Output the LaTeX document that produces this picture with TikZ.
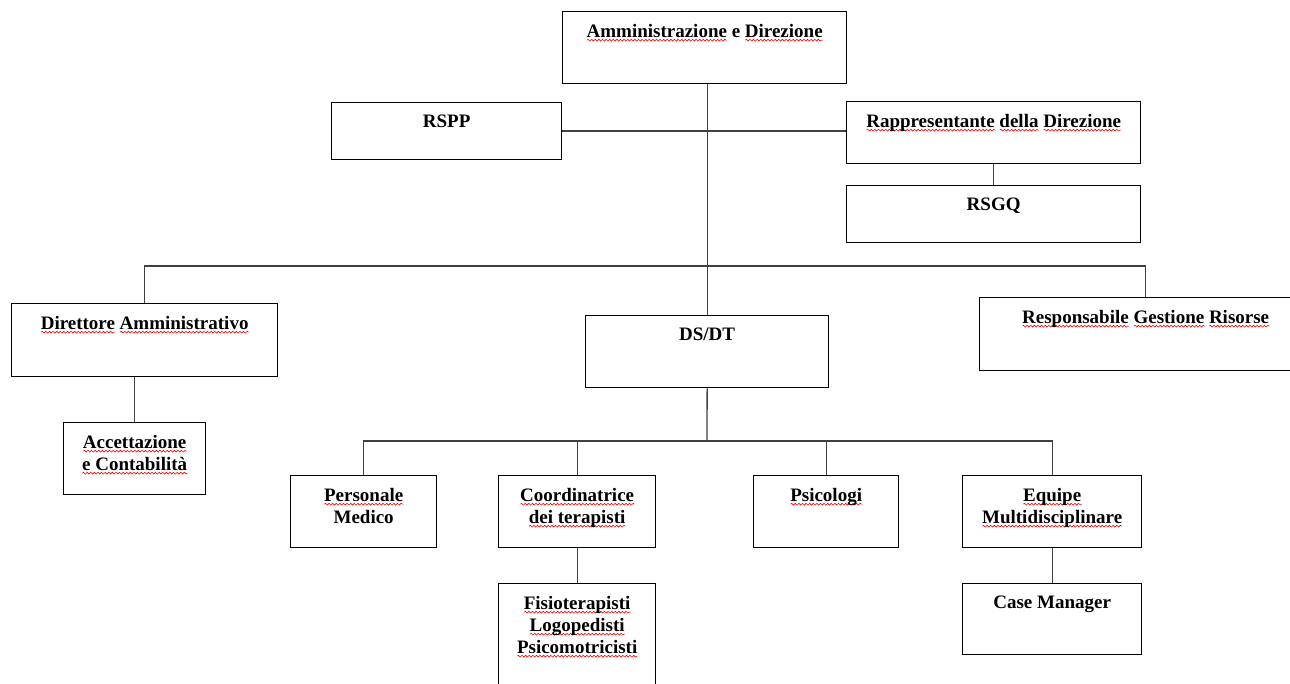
\documentclass[tikz,border=0pt]{standalone}
\usepackage{fontspec}
\setmainfont{Liberation Serif}
\usepackage{xcolor}
\usetikzlibrary{positioning, decorations.pathmorphing}

% red wavy line under the flagged words
\newsavebox{\sqbox}
\newcommand{\sqw}[1]{\sbox{\sqbox}{#1}\leavevmode
  \rlap{\smash{\raisebox{-4pt}{\tikz\draw[red, line width=0.6pt, decorate,
    decoration={snake, amplitude=0.9pt, segment length=3.6pt}]
    (0pt,0pt) -- (\wd\sqbox,0pt);}}}%
  \usebox{\sqbox}}

\tikzset{
  box/.style={draw=black, line width=1.3pt, inner sep=0pt, anchor=north west},
  lbl/.style={anchor=north, align=center, inner sep=0pt, yshift=-13pt,
    font=\fontsize{19}{22}\selectfont\bfseries},
  link/.style={draw=black!75, line width=1.3pt},
}

\begin{document}
\begin{tikzpicture}[x=1pt, y=-1pt]
  \useasboundingbox (0,0) rectangle (1290,684);
  \clip (0,0) rectangle (1290,684);

  \node[box, minimum width=284pt, minimum height=72pt,
    label={[lbl]north:{\sqw{Amministrazione} e \sqw{Direzione}}}] (amm) at (562,11) {};
  \node[box, minimum width=230pt, minimum height=57pt,
    label={[lbl]north:{RSPP}}] (rspp) at (331,102) {};
  \node[box, minimum width=294pt, minimum height=62pt,
    label={[lbl]north:{\sqw{Rappresentante} \sqw{della} \sqw{Direzione}}}] (rapp) at (846,101) {};
  \node[box, minimum width=294pt, minimum height=57pt,
    label={[lbl]north:{RSGQ}}] (rsgq) at (846,185) {};

  \node[box, minimum width=266pt, minimum height=73pt,
    label={[lbl]north:{\sqw{Direttore} \sqw{Amministrativo}}}] (dir) at (11,303) {};
  \node[box, minimum width=142pt, minimum height=72pt,
    label={[lbl]north:{\sqw{Accettazione}\\\sqw{e Contabilità}}}] (acc) at (63,422) {};
  \node[box, minimum width=243pt, minimum height=72pt,
    label={[lbl]north:{DS/DT}}] (dsdt) at (585,315) {};
  \node[box, minimum width=332pt, minimum height=73pt,
    label={[lbl]north:{\sqw{Responsabile} \sqw{Gestione} \sqw{Risorse}}}] (rgr) at (979,297) {};

  \node[box, minimum width=146pt, minimum height=72pt,
    label={[lbl]north:{\sqw{Personale}\\Medico}}] (pers) at (290,475) {};
  \node[box, minimum width=157pt, minimum height=72pt,
    label={[lbl]north:{\sqw{Coordinatrice}\\\sqw{dei terapisti}}}] (coord) at (498,475) {};
  \node[box, minimum width=145pt, minimum height=72pt,
    label={[lbl]north:{\sqw{Psicologi}}}] (psic) at (753,475) {};
  \node[box, minimum width=179pt, minimum height=72pt,
    label={[lbl]north:{\sqw{Equipe}\\\sqw{Multidisciplinare}}}] (equi) at (962,475) {};
  \node[box, minimum width=157pt, minimum height=120pt,
    label={[lbl]north:{\sqw{Fisioterapisti}\\\sqw{Logopedisti}\\\sqw{Psicomotricisti}}}] (fisio) at (498,583) {};
  \node[box, minimum width=179pt, minimum height=71pt,
    label={[lbl]north:{Case Manager}}] (case) at (962,583) {};

  \coordinate (bustop) at (707,266);
  \coordinate (busbot) at (707,441);

  \draw[link] (dsdt.north |- amm.south) -- (dsdt.north);
  \draw[link] (rspp.east) -- (rspp.east -| rapp.west);
  \draw[link] (rapp.south) -- (rsgq.north);
  \draw[link] (dir.north) |- (bustop) -| (rgr.north);
  \draw[link] (dir.south -| acc.north) -- (acc.north);
  \draw[link] (dsdt.south) -- (busbot);
  \draw[link] (pers.north) |- (busbot) -| (equi.north);
  \draw[link] (coord.north) -- (coord.north |- busbot);
  \draw[link] (psic.north) -- (psic.north |- busbot);
  \draw[link] (coord.south) -- (fisio.north);
  \draw[link] (equi.south) -- (case.north);
\end{tikzpicture}
\end{document}
